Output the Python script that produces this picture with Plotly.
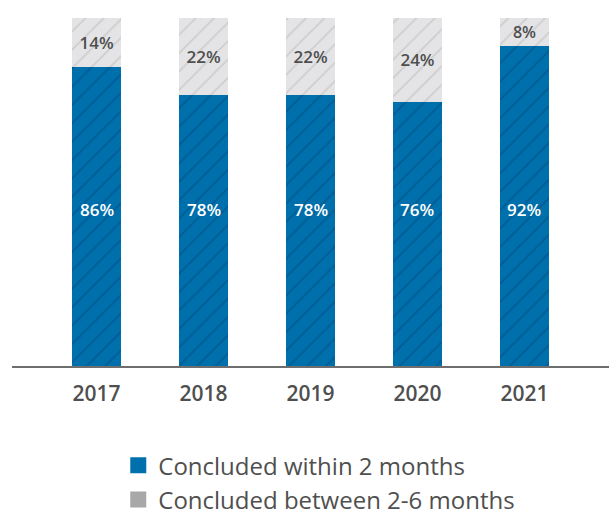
import plotly.graph_objects as go

years = ["2017", "2018", "2019", "2020", "2021"]
within_2 = [86, 78, 78, 76, 92]
between_2_6 = [14, 22, 22, 24, 8]
series_names = ["Concluded within 2 months", "Concluded between 2-6 months"]

BLUE = "#0070ad"
BLUE_LINE = "#004c7e"
GREY_BG = "#e4e4e6"
GREY_LINE = "#b4b4b4"
TXT = "#4f4f4f"
FONT = "Open Sans"

fig = go.Figure()
fig.add_trace(go.Bar(
    x=years, y=within_2, width=0.46, showlegend=False,
    marker=dict(color=BLUE, line=dict(width=0),
                pattern=dict(shape="/", bgcolor=BLUE, fgcolor=BLUE_LINE, size=13, solidity=0.15)),
    hoverinfo="skip"))
fig.add_trace(go.Bar(
    x=years, y=between_2_6, width=0.46, showlegend=False,
    text=[f"{v}%" for v in between_2_6], textposition="inside", insidetextanchor="middle",
    textangle=0,
    textfont=dict(family=FONT, size=17, color=TXT, weight=600),
    marker=dict(color=GREY_BG, line=dict(width=0),
                pattern=dict(shape="/", bgcolor=GREY_BG, fgcolor=GREY_LINE, size=13, solidity=0.12)),
    hoverinfo="skip"))

for i, v in enumerate(within_2):
    fig.add_annotation(x=i, y=45, xref="x", yref="y", text=f"{v}%", showarrow=False,
                       font=dict(family=FONT, size=17, color="white", weight=600))

# legend proxies
fig.add_trace(go.Scatter(x=[None], y=[None], mode="markers", name=series_names[0],
                         marker=dict(symbol="square", size=16, color=BLUE)))
fig.add_trace(go.Scatter(x=[None], y=[None], mode="markers", name=series_names[1],
                         marker=dict(symbol="square", size=16, color="#a9a8a8")))

fig.update_layout(
    barmode="stack",
    width=609, height=515,
    margin=dict(l=12, r=0, t=18, b=149, autoexpand=False),
    paper_bgcolor="white", plot_bgcolor="white",
    font=dict(family=FONT, color=TXT),
    xaxis=dict(type="category", range=[-0.79, 4.79], showline=True, linecolor="#6e6e6e",
               linewidth=1.5, ticks="", showgrid=False, ticklabelstandoff=8,
               tickfont=dict(family=FONT, size=21, color=TXT, weight=600)),
    yaxis=dict(range=[0, 100], visible=False, showgrid=False),
    legend=dict(orientation="v", x=0.178, y=-0.222, xanchor="left", yanchor="top",
                traceorder="normal", bgcolor="rgba(0,0,0,0)",
                font=dict(family=FONT, size=24, color=TXT), tracegroupgap=17),
    bargap=0.54,
)
fig.write_html("out.html")
